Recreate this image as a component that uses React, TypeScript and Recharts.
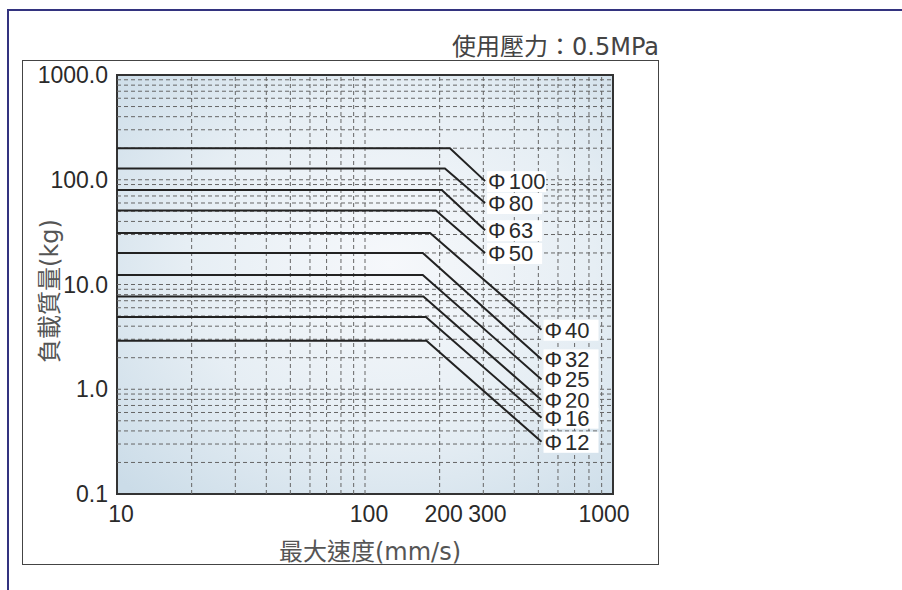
import React from 'react'
import { LineChart, Line, XAxis, YAxis, CartesianGrid, ReferenceLine, ReferenceArea } from 'recharts'

// bore sizes and the load / speed limits (0.5 MPa)
const bores = ['100', '80', '63', '50', '40', '32', '25', '20', '16', '12']
const maxLoad = [200, 128, 80, 51, 31, 20, 12.3, 7.7, 4.9, 2.9]
const kneeSpeed = [220, 210, 204, 193, 183, 171, 171, 172, 176, 177]
const endSpeed = [305, 305, 305, 305, 515, 515, 515, 515, 515, 515]
const endLoad = [97, 60, 33, 20, 3.7, 1.93, 1.24, 0.79, 0.535, 0.315]
const startSpeed = 10

const xTicks = [10, 100, 200, 300, 1000]
const yTicks = [0.1, 1, 10, 100, 1000]
const gridX = [20, 30, 40, 50, 60, 70, 80, 90, 100, 200, 300, 400, 500, 600, 700, 800, 900]
const gridY = [
  0.2, 0.3, 0.4, 0.5, 0.6, 0.7, 0.8, 0.9, 1,
  2, 3, 4, 5, 6, 7, 8, 9, 10,
  20, 30, 40, 50, 60, 70, 80, 90, 100,
  200, 300, 400, 500, 600, 700, 800, 900,
]

const series = bores.map((b, i) => ({
  name: b,
  data: [
    { v: startSpeed, m: maxLoad[i] },
    { v: kneeSpeed[i], m: maxLoad[i] },
    { v: endSpeed[i], m: endLoad[i] },
  ],
}))

const sans = '"Liberation Sans", Arial, sans-serif'
const wide = '"DejaVu Sans", sans-serif'
const cjk = '"Noto Sans CJK TC", "Noto Sans CJK SC", sans-serif'

function BoreLabel(props: any) {
  const { x, y, index, name } = props
  if (index !== 2) return null
  return (
    <g>
      <rect x={x + 2} y={y - 10} width={name.length > 2 ? 59 : 55} height={21} fill="#fff" />
      <text x={x + 3} y={y} dy="0.36em" fontFamily={sans} fontSize={22} fill="#2a2a2a">
        Φ<tspan dx={3}>{name}</tspan>
      </text>
    </g>
  )
}

function XTick(props: any) {
  const { x, y, payload } = props
  const dx = payload.value === 1000 ? -9 : 4
  return (
    <text x={x + dx} y={y} dy="0.71em" textAnchor="middle" fontFamily={sans} fontSize={23} fill="#2a2a2a">
      {payload.value}
    </text>
  )
}

export default function App() {
  return (
    <div style={{ position: 'absolute', left: 0, top: 0, width: 902, height: 590, background: '#fff', overflow: 'hidden' }}>
      <div style={{ position: 'absolute', left: 7, top: 9, width: 900, height: 600, borderTop: '2px solid #33337f', borderLeft: '2px solid #33337f' }} />
      <div style={{ position: 'absolute', left: 22, top: 60, width: 635, height: 503, border: '1.5px solid #444' }} />
      <div style={{ position: 'absolute', right: 902 - 659, top: 31, fontFamily: cjk, fontSize: 24, color: '#444', whiteSpace: 'nowrap', lineHeight: '28px' }}>
        使用壓力：<span style={{ fontFamily: wide }}>0.5MPa</span>
      </div>
      <div style={{ position: 'absolute', left: 47, top: 291, transform: 'translate(-50%, -50%) rotate(-90deg)', fontFamily: cjk, fontSize: 24, color: '#555', whiteSpace: 'nowrap' }}>
        負載質量<span style={{ fontFamily: wide }}>(kg)</span>
      </div>
      <div style={{ position: 'absolute', left: 370, top: 549, transform: 'translate(-50%, -50%)', fontFamily: cjk, fontSize: 24, color: '#555', whiteSpace: 'nowrap' }}>
        最大速度<span style={{ fontFamily: wide }}>(mm/s)</span>
      </div>
      <div style={{ position: 'absolute', left: 0, top: 0 }}>
        <LineChart width={902} height={590} margin={{ top: 75, left: 57, right: 289, bottom: 66 }}>
          <defs>
            <radialGradient id="plotBg" cx="0.55" cy="0.45" r="0.75">
              <stop offset="0" stopColor="#f6f8fb" />
              <stop offset="0.55" stopColor="#e6eef4" />
              <stop offset="1" stopColor="#cbdcE8" />
            </radialGradient>
          </defs>
          <CartesianGrid horizontal={false} vertical={false} fill="url(#plotBg)" />
          <XAxis
            dataKey="v"
            type="number"
            scale="log"
            domain={[10, 1000]}
            ticks={xTicks}
            allowDataOverflow
            axisLine={false}
            tickLine={false}
            tickSize={0}
            tickMargin={12}
            height={30}
            tick={<XTick />}
            interval={0}
          />
          <YAxis
            type="number"
            scale="log"
            domain={[0.1, 1000]}
            ticks={yTicks}
            allowDataOverflow
            axisLine={false}
            tickLine={false}
            tickSize={0}
            tickMargin={9}
            width={60}
            interval={0}
            tickFormatter={(v: number) => v.toFixed(1)}
            tick={{ fontFamily: sans, fontSize: 23, fill: '#2a2a2a' }}
          />
          {gridX.map((v) => (
            <ReferenceLine key={'x' + v} x={v} stroke="#666" strokeWidth={1} strokeDasharray="4 3" />
          ))}
          {gridY.map((v) => (
            <ReferenceLine key={'y' + v} y={v} stroke="#666" strokeWidth={1} strokeDasharray="4 3" />
          ))}
          {series.map((s) => (
            <Line
              key={s.name}
              data={s.data}
              dataKey="m"
              type="linear"
              stroke="#222"
              strokeWidth={2}
              dot={false}
              isAnimationActive={false}
              label={(p: any) => <BoreLabel {...p} name={s.name} />}
            />
          ))}
          <ReferenceArea x1={10} x2={1000} y1={0.1} y2={1000} fill="none" stroke="#333" strokeWidth={2} />
        </LineChart>
      </div>
    </div>
  )
}
